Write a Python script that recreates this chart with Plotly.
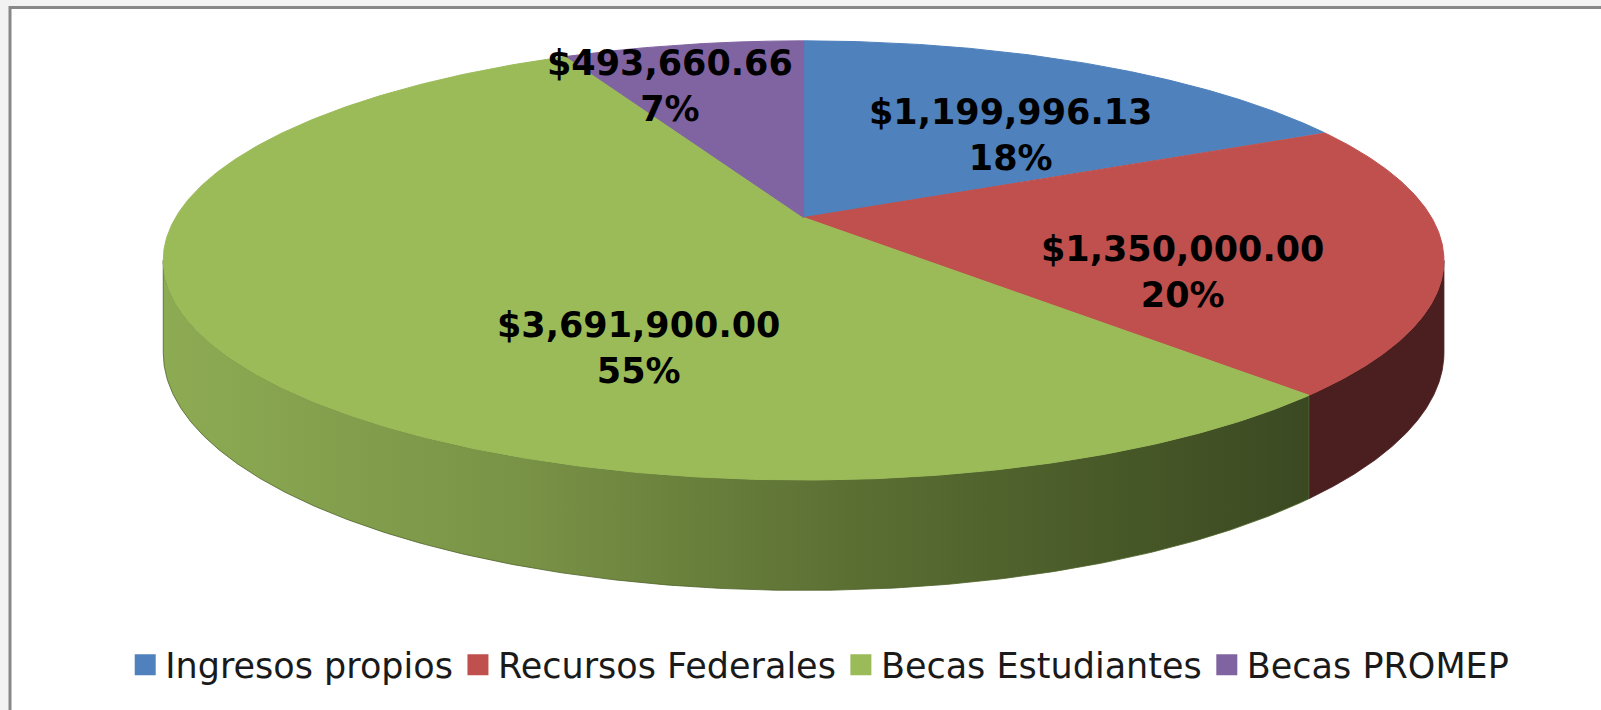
import numpy as np
import plotly.graph_objects as go

# ---- data ----
categories = ["Ingresos propios", "Recursos Federales", "Becas Estudiantes", "Becas PROMEP"]
values = [1199996.13, 1350000.00, 3691900.00, 493660.66]

# ---- style ----
top_colors = ["#4F81BD", "#C0504D", "#9BBB59", "#8064A2"]
side_colors = ["#26405E", "#4B1E1F", "#4E6329", "#403251"]
green_side_scale = [[0.0, "#8dab53"], [0.3, "#7a9447"], [0.6, "#5b6f33"],
                    [0.85, "#465727"], [1.0, "#3b4922"]]

# ---- geometry (pixel space, perspective-projected disc) ----
W, H = 1601, 710
CX, CY = 803.6, 217.5     # projected centre of the disc
K, M = 628.0, 211.2       # horizontal / vertical scale
P = 0.1955                # perspective strength
DEPTH = 88.8              # thickness of the pie

# label placement (radial fraction, vertical nudge) per slice
label_frac = [0.69, 0.60, 0.31, 1.13]
label_dy = [28, 32, 92, 60]


def proj(phi, r=1.0):
    u = r * np.sin(phi)
    v = r * np.cos(phi)
    d = 1 + P * v
    return CX + K * u / d, CY - M * v / d


def proj_bottom(phi):
    x, y = proj(phi)
    return x, y + DEPTH / (1 + P * np.cos(phi))


vals = np.array(values, dtype=float)
frac = vals / vals.sum()
bounds = np.concatenate([[0.0], np.cumsum(frac)]) * 2 * np.pi

fig = go.Figure()

# sides (visible front part)
phi_min = np.pi / 2 + np.arcsin(P)
phi_max = 3 * np.pi / 2 - np.arcsin(P)
for i in range(len(values)):
    a = max(bounds[i], phi_min)
    b = min(bounds[i + 1], phi_max)
    if b <= a:
        continue
    t = np.linspace(a, b, 300)
    xt, yt = proj(t)
    xb, yb = proj_bottom(t)
    xs = np.concatenate([xt, xb[::-1], xt[:1]])
    ys = np.concatenate([yt, yb[::-1], yt[:1]])
    kw = dict(fillcolor=side_colors[i])
    if i == 2:
        kw = dict(fillgradient=dict(type="horizontal", colorscale=green_side_scale))
    fig.add_trace(go.Scatter(x=xs, y=ys, mode="lines", fill="toself",
                             line=dict(width=0.8, color=side_colors[i]),
                             hoverinfo="skip", showlegend=False, **kw))

# top faces
for i in range(len(values)):
    t = np.linspace(bounds[i], bounds[i + 1], 400)
    xt, yt = proj(t)
    xs = np.concatenate([[CX], xt, [CX]])
    ys = np.concatenate([[CY], yt, [CY]])
    fig.add_trace(go.Scatter(x=xs, y=ys, mode="lines", fill="toself",
                             fillcolor=top_colors[i],
                             line=dict(width=1, color=top_colors[i]),
                             hoverinfo="skip", showlegend=False))

# labels
for i in range(len(values)):
    mid = (bounds[i] + bounds[i + 1]) / 2
    lx, ly = proj(mid, label_frac[i])
    pct = round(frac[i] * 100)
    fig.add_annotation(x=lx, y=ly + label_dy[i], xref="x", yref="y",
                       text=f"<b>${values[i]:,.2f}<br>{pct}%</b>",
                       showarrow=False, align="center",
                       font=dict(family="DejaVu Sans", size=35, color="#000000"))

# legend entries
for i, name in enumerate(categories):
    fig.add_trace(go.Scatter(x=[None], y=[None], mode="markers", name=name,
                             marker=dict(symbol="square", size=16, color=top_colors[i],
                                         line=dict(width=5, color=top_colors[i]))))

# frame
fig.add_shape(type="rect", xref="x", yref="y", x0=10, y0=7.5, x1=W + 50, y1=H + 50,
              line=dict(color="#878787", width=3), fillcolor="white", layer="below")

fig.update_layout(
    width=W, height=H, autosize=False,
    margin=dict(l=0, r=0, t=0, b=0),
    paper_bgcolor="#f2f2f2", plot_bgcolor="#f2f2f2",
    xaxis=dict(range=[0, W], visible=False, fixedrange=True),
    yaxis=dict(range=[H, 0], visible=False, fixedrange=True),
    showlegend=True,
    legend=dict(orientation="h", x=0.512, xanchor="center", y=(H - 665) / H, yanchor="middle",
                font=dict(family="DejaVu Sans", size=35, color="#1a1a1a"),
                bgcolor="rgba(0,0,0,0)", itemclick=False),
)

fig.write_html("out.html", config={"displayModeBar": False},
               post_script="document.body.style.margin='0';document.body.style.overflow='hidden';")
